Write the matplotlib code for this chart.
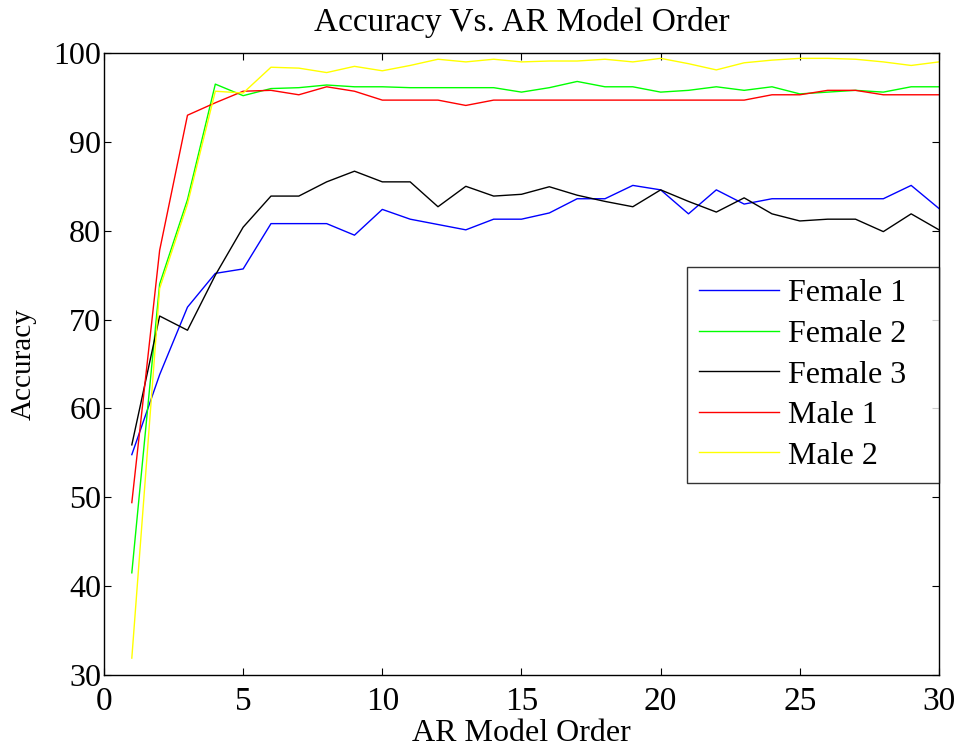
import matplotlib
matplotlib.use("Agg")
import matplotlib.pyplot as plt

# AR model order on x, recognition accuracy (%) per speaker on y
order = list(range(1, 31))

female_1 = [54.8, 63.8, 71.4, 75.2, 75.7, 80.8, 80.8, 80.8, 79.5, 82.4,
            81.3, 80.7, 80.1, 81.3, 81.3, 82.0, 83.6, 83.6, 85.1, 84.6,
            81.9, 84.6, 83.0, 83.6, 83.6, 83.6, 83.6, 83.6, 85.1, 82.5]
female_2 = [41.5, 74.0, 83.5, 96.5, 95.2, 96.0, 96.1, 96.4, 96.2, 96.2,
            96.1, 96.1, 96.1, 96.1, 95.6, 96.1, 96.8, 96.2, 96.2, 95.6,
            95.8, 96.2, 95.8, 96.2, 95.4, 95.6, 95.8, 95.6, 96.2, 96.2]
female_3 = [55.9, 70.4, 68.8, 75.0, 80.4, 83.9, 83.9, 85.5, 86.7, 85.5,
            85.5, 82.7, 85.0, 83.9, 84.1, 84.95, 84.0, 83.3, 82.7, 84.6,
            83.3, 82.1, 83.7, 81.9, 81.1, 81.3, 81.3, 79.9, 81.9, 80.1]
male_1 = [49.4, 77.8, 93.0, 94.4, 95.7, 95.8, 95.3, 96.2, 95.7, 94.7,
          94.7, 94.7, 94.1, 94.7, 94.7, 94.7, 94.7, 94.7, 94.7, 94.7,
          94.7, 94.7, 94.7, 95.3, 95.3, 95.8, 95.8, 95.3, 95.3, 95.3]
male_2 = [31.9, 73.5, 83.0, 95.7, 95.5, 98.4, 98.3, 97.8, 98.5, 98.0,
          98.6, 99.3, 99.0, 99.3, 99.0, 99.1, 99.1, 99.3, 99.0, 99.4,
          98.8, 98.1, 98.9, 99.2, 99.4, 99.4, 99.3, 99.0, 98.6, 99.0]

series = [
    ("Female 1", female_1, "#0000ff"),
    ("Female 2", female_2, "#00ff00"),
    ("Female 3", female_3, "#000000"),
    ("Male 1", male_1, "#ff0000"),
    ("Male 2", male_2, "#ffff00"),
]

plt.rcParams["font.family"] = ["Liberation Serif", "DejaVu Serif"]

fig = plt.figure(figsize=(9.61, 7.51), dpi=100)
ax = fig.add_axes([0.1082, 0.1012, 0.8689, 0.8282])

for name, vals, col in series:
    ax.plot(order, vals, color=col, lw=1.0, label=name)

ax.set_xlim(0, 30)
ax.set_ylim(30, 100)
ax.set_xticks(range(0, 31, 5))
ax.set_yticks(range(30, 101, 10))
ax.tick_params(direction="in", top=True, right=True, length=5, width=0.8)
ax.tick_params(axis="x", labelsize=24, pad=8)
ax.tick_params(axis="y", labelsize=23, pad=2)
for sp in ax.spines.values():
    sp.set_linewidth(1.0)

ax.set_title("Accuracy Vs. AR Model Order", fontsize=24, pad=16)
ax.set_xlabel("AR Model Order", fontsize=23, labelpad=2)
ax.set_ylabel("Accuracy", fontsize=21, labelpad=12)

leg = ax.legend(loc="upper left", bbox_to_anchor=(0.698, 0.325, 0.302, 0.331),
                mode="expand", fontsize=23, frameon=True, fancybox=False,
                edgecolor="black", handlelength=2.5, handletextpad=0.3,
                borderpad=0.38, labelspacing=0.35, borderaxespad=0.0)
leg.get_frame().set_linewidth(1.0)

fig.savefig("out.png", dpi=100)
